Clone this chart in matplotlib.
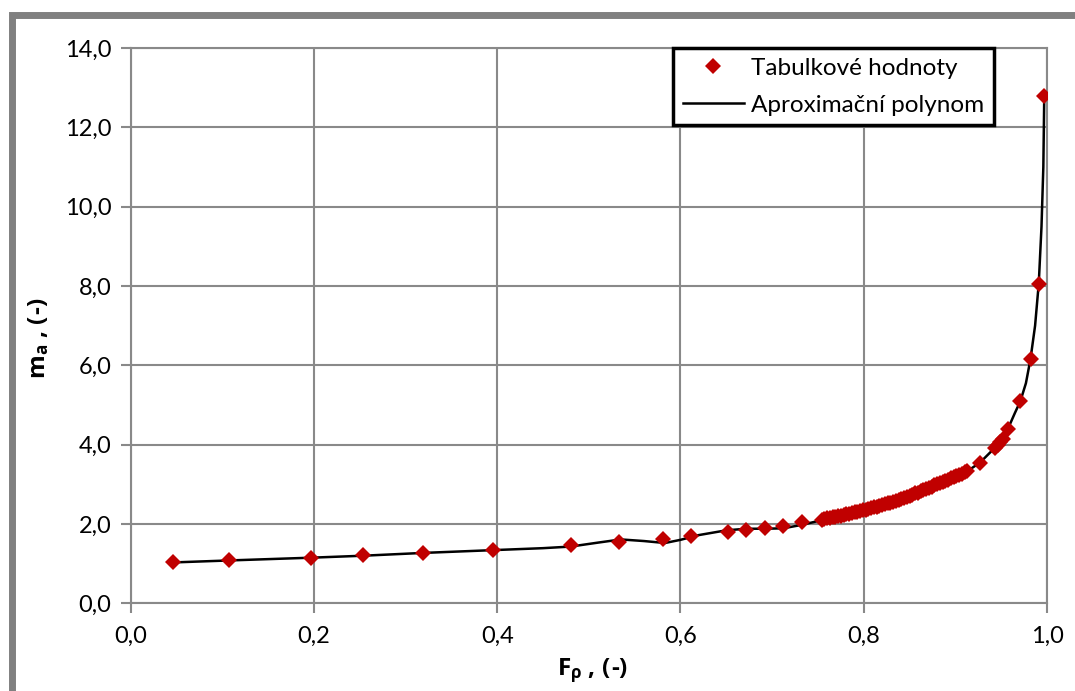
import matplotlib
matplotlib.use("Agg")
import matplotlib.pyplot as plt
from matplotlib.patches import Rectangle
from matplotlib.ticker import FuncFormatter, MultipleLocator

plt.rcParams['font.family'] = ['Lato', 'DejaVu Sans']
plt.rcParams['mathtext.fontset'] = 'custom'
plt.rcParams['mathtext.rm'] = 'Open Sans'
plt.rcParams['mathtext.bf'] = 'Open Sans:bold'
plt.rcParams['mathtext.it'] = 'Open Sans:italic'

# Tabulated values
tab_F = [0.046, 0.107, 0.197, 0.254, 0.319, 0.395, 0.480, 0.533, 0.581, 0.611,
         0.652, 0.672, 0.692, 0.712, 0.733,
         0.754, 0.757, 0.760, 0.763, 0.766, 0.769, 0.772, 0.775, 0.778, 0.781,
         0.784, 0.787, 0.790, 0.793, 0.796, 0.799, 0.802, 0.805, 0.808, 0.811,
         0.814, 0.817, 0.820, 0.823, 0.826, 0.829, 0.832, 0.835, 0.838, 0.841,
         0.844, 0.847, 0.850, 0.853, 0.856, 0.859, 0.862, 0.865, 0.868, 0.871,
         0.874, 0.877, 0.880, 0.883, 0.886, 0.889, 0.892, 0.895, 0.898, 0.901,
         0.904, 0.907, 0.910, 0.913,
         0.927, 0.943, 0.946, 0.949, 0.952, 0.957, 0.971, 0.982, 0.991, 0.997]
tab_m = [1.04, 1.08, 1.15, 1.21, 1.28, 1.34, 1.46, 1.55, 1.62, 1.70,
         1.79, 1.84, 1.89, 1.96, 2.04,
         2.11, 2.12, 2.14, 2.15, 2.17, 2.18, 2.20, 2.21, 2.23, 2.25,
         2.26, 2.28, 2.29, 2.31, 2.33, 2.34, 2.36, 2.38, 2.40, 2.42,
         2.44, 2.46, 2.48, 2.50, 2.52, 2.54, 2.56, 2.59, 2.61, 2.63,
         2.66, 2.69, 2.71, 2.74, 2.77, 2.79, 2.82, 2.85, 2.88, 2.91,
         2.94, 2.97, 3.00, 3.03, 3.06, 3.09, 3.12, 3.15, 3.18, 3.21,
         3.24, 3.27, 3.30, 3.33,
         3.53, 3.92, 4.00, 4.07, 4.15, 4.40, 5.10, 6.16, 8.06, 12.78]

# Approximating polynomial curve
poly_F = [0.046, 0.107, 0.197, 0.254, 0.319, 0.395, 0.450, 0.480, 0.510, 0.535,
          0.560, 0.583, 0.600, 0.620, 0.650, 0.672, 0.692, 0.712, 0.733, 0.753,
          0.800, 0.847, 0.883, 0.913, 0.927, 0.940, 0.950, 0.957, 0.965, 0.971,
          0.977, 0.982, 0.987, 0.991, 0.994, 0.996, 0.997]
poly_m = [1.03, 1.08, 1.15, 1.20, 1.27, 1.34, 1.39, 1.43, 1.53, 1.61,
          1.57, 1.52, 1.60, 1.72, 1.84, 1.88, 1.88, 1.89, 1.98, 2.09,
          2.35, 2.69, 3.03, 3.33, 3.55, 3.85, 4.10, 4.38, 4.80, 5.10,
          5.55, 6.16, 7.00, 8.06, 9.50, 11.00, 12.78]

W, H = 1075, 691
fig = plt.figure(figsize=(W / 100, H / 100), dpi=100)
fig.patch.set_facecolor('white')

# chart-area frame
fig.add_artist(Rectangle((11.5 / W, -0.2), 1.3, 1 - 14.5 / H + 0.2,
                         transform=fig.transFigure, fill=False,
                         edgecolor='#808080', linewidth=5, zorder=0))

ax = fig.add_axes([130.7 / W, 1 - 603.3 / H, (1047 - 130.7) / W, (603.3 - 48) / H])
ax.set_xlim(0, 1.0)
ax.set_ylim(0, 14.0)
ax.xaxis.set_major_locator(MultipleLocator(0.2))
ax.yaxis.set_major_locator(MultipleLocator(2.0))
ax.xaxis.set_major_formatter(FuncFormatter(lambda v, p: f"{v:.1f}".replace('.', ',')))
ax.yaxis.set_major_formatter(FuncFormatter(lambda v, p: f"{v:.1f}".replace('.', ',')))

grid_c = '#898989'
ax.grid(True, color=grid_c, linewidth=1.5)
ax.set_axisbelow(True)
for s in ax.spines.values():
    s.set_color(grid_c)
    s.set_linewidth(1.5)
ax.tick_params(axis='both', direction='out', length=7, width=1.5, color=grid_c,
               labelsize=17, labelcolor='black')
ax.tick_params(axis='x', pad=9)
ax.tick_params(axis='y', pad=7)

ax.plot(poly_F, poly_m, color='black', linewidth=1.8, zorder=2,
        label='Aproximační polynom')
ax.plot(tab_F, tab_m, linestyle='none', marker='D', markersize=8,
        color='#C00000', markeredgewidth=0, zorder=3, label='Tabulkové hodnoty')

handles, labels = ax.get_legend_handles_labels()
leg = ax.legend(handles[::-1], labels[::-1], loc='upper right',
                bbox_to_anchor=((994 - 130.7) / (1047 - 130.7), 1.0),
                fontsize=17.5, frameon=True, fancybox=False, borderpad=0.4,
                handlelength=2.5, handletextpad=0.3, labelspacing=0.65,
                borderaxespad=0)
leg.get_frame().set_edgecolor('black')
leg.get_frame().set_linewidth(2.5)
leg.get_frame().set_alpha(1)

lab_font = dict(family='Open Sans', fontsize=17.5, fontweight='bold')
ax.set_xlabel(r'$\mathbf{F_{\rho}}$ , (-)', va='center', ha='center', **lab_font)
ax.set_ylabel(r'$\mathbf{m_{a}}$ , (-)', va='center', ha='center', **lab_font)
ax.xaxis.set_label_coords((593 - 130.7) / 916.3, (603.3 - 671) / 555.3)
ax.yaxis.set_label_coords((39 - 130.7) / 916.3, (603.3 - 338) / 555.3)

fig.savefig('out.png', dpi=100, facecolor='white')
